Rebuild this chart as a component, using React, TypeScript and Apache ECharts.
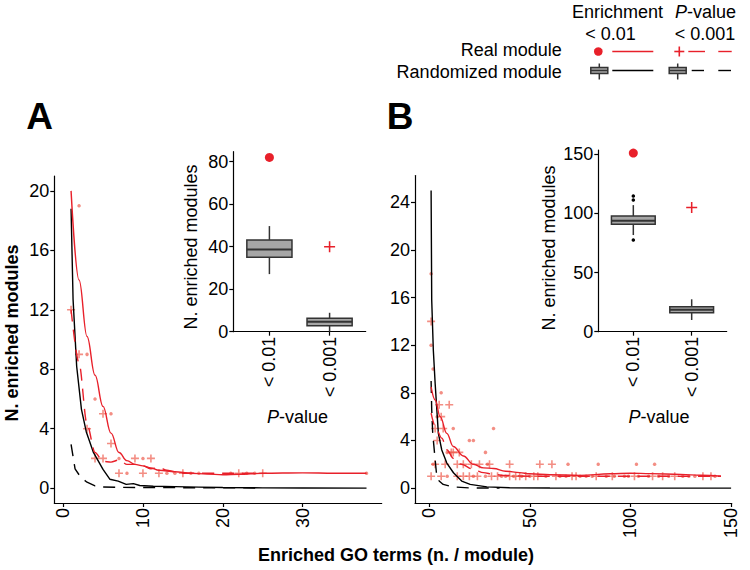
import React, { useEffect, useRef } from 'react';
import * as echarts from 'echarts';

const FONT = '"Liberation Sans", Arial, Helvetica, sans-serif';
const RED = '#e8202a';
const PT = 'rgba(236, 72, 56, 0.62)';
const BOXFILL = '#a6a6a6';
const BOXLINE = '#333333';

// ---------- Panel A (main) ----------
const aTicksX = [0, 10, 20, 30];
const aTicksY = [0, 4, 8, 12, 16, 20];
const aRealEnrichLine = [[1, 20], [2, 14], [3, 10.2], [4, 7.6], [5, 5.5], [6, 3.7], [7, 2.4], [8, 1.85], [9, 1.6], [10, 1.5], [11, 1.35], [12, 1.2], [14, 1.1], [16, 1.0], [18, 0.95], [20, 0.9], [22, 0.93], [25, 1.0], [30, 1.03], [34, 1.0], [38, 1.0]];
const aRealPLine = [[1, 12], [2, 8.4], [3, 4.3], [4, 2.4], [5, 1.8], [6, 1.75], [7, 1.9], [8, 1.6], [9, 1.6], [10, 1.5], [11, 1.3], [12, 1.4], [13, 1.2], [14, 1.1], [15, 1.0], [17, 1.0], [20, 1.0], [22, 1.0], [25, 1.0]];
const aRandEnrichLine = [[1, 18.8], [1.25, 12.7], [1.7, 8.2], [2.3, 5.3], [2.9, 3.8], [3.8, 2.4], [5, 1.26], [5.85, 0.6], [6.9, 0.47], [7.9, 0.25], [8.8, 0.3], [9.6, 0.18], [11.3, 0.13], [14, 0.1], [17, 0.07], [20, 0.04], [25, 0.02], [30, 0.01], [38, 0]];
const aRandPLine = [[1, 2.95], [1.5, 1.3], [2, 0.9], [2.5, 0.6], [3, 0.4], [4, 0.15], [5, 0.08], [7, 0.05], [10, 0.04], [15, 0.03], [20, 0.02], [25, 0.01]];
const aPlusPts = [[1, 12], [2, 9], [3, 4], [4, 2], [5, 5], [5, 2], [6, 3], [7, 1], [9, 2], [10, 1], [11, 2], [12, 1], [15, 1], [22, 1], [25, 1]];
const aDotPts = [[2, 19], [3, 9], [4, 6], [6, 5], [7, 2], [8, 1], [10, 2], [13, 1], [14, 1], [16, 1], [17, 1], [21, 1], [23, 1], [24, 1], [38, 1]];

// ---------- Panel A (inset) ----------
const insetCats = ['< 0.01', '< 0.001'];
const aInsetTicksY = [0, 20, 40, 60, 80];
// [category position, low whisker, Q1, median, Q3, high whisker]
const aBoxes = [[1, 27.1, 35, 38.7, 43.2, 49.7], [2, 0, 2.8, 4.7, 6.3, 8.9]];
const aRealEnrichCount = [[1, 82]];
const aRealPCount = [[2, 40]];

// ---------- Panel B (main) ----------
const bTicksX = [0, 50, 100, 150];
const bTicksY = [0, 4, 8, 12, 16, 20, 24];
const bRealEnrichLine = [[1, 8.5], [3, 7.4], [5.5, 6.0], [8.8, 4.6], [12, 3.5], [17, 2.7], [22, 2.0], [27, 1.7], [32, 1.65], [38, 1.42], [45, 1.3], [50, 1.2], [60, 1.12], [75, 1.07], [90, 1.2], [100, 1.25], [110, 1.22], [125, 1.15], [135, 1.08], [145, 1.0]];
const bRealPLine = [[1, 6.3], [3, 5.2], [6.3, 4.2], [9, 3.2], [12, 2.5], [16, 2.0], [22, 1.57], [27, 1.3], [32, 1.15], [38, 1.06], [50, 1.0], [80, 1.0], [110, 1.0], [145, 1.0]];
const bRandEnrichLine = [[1, 25], [1.3, 15.8], [2.1, 11.6], [3, 8.8], [4.6, 4.6], [6.3, 3.2], [8.8, 2.1], [12.1, 1.29], [16.2, 0.59], [20.4, 0.31], [28.7, 0.1], [40, 0.03], [60, 0.01], [100, 0], [150, 0]];
const bRandPLine = [[1, 9], [1.3, 6.6], [1.8, 4.6], [3, 2.4], [3.8, 1.0], [5, 0.6], [7, 0.31], [12, 0.1], [20, 0.02], [35, 0]];
const bPlusPts = [[1, 14], [5, 7], [10, 7], [6, 6], [3, 5], [7, 5], [4, 4], [11, 3], [12, 3], [15, 3], [3, 2], [8, 2], [14, 2], [17, 2], [21, 2], [25, 2], [30, 2], [40, 2], [55, 2], [61, 2], [1, 1], [6, 1], [14, 1], [17, 1], [20, 1], [24, 1], [31, 1], [34, 1], [40, 1], [43, 1], [45, 1], [48, 1], [52, 1], [54, 1], [63, 1], [71, 1], [73, 1], [83, 1], [91, 1], [102, 1], [111, 1], [116, 1], [122, 1], [136, 1], [140, 1]];
const bDotPts = [[1, 18], [1, 12], [2, 10], [6, 8], [4, 6], [12, 5], [20, 4], [22, 4], [32, 5], [28, 3], [9, 3], [2, 2], [29, 2], [69, 2], [84, 2], [103, 2], [112, 2], [9, 1], [22, 1], [28, 1], [36, 1], [38, 1], [42, 1], [46, 1], [50, 1], [58, 1], [65, 1], [68, 1], [75, 1], [78, 1], [81, 1], [88, 1], [92, 1], [97, 1], [99, 1], [104, 1], [109, 1], [114, 1], [119, 1], [126, 1], [129, 1], [132, 1], [142, 1]];

// ---------- Panel B (inset) ----------
const bInsetTicksY = [0, 50, 100, 150];
const bBoxes = [[1, 81.7, 90.8, 93.8, 97.8, 107], [2, 9.9, 16.1, 18.6, 21.1, 27.4]];
const bOutliers = [[1, 114.7], [1, 111.3], [1, 77.5]];
const bRealEnrichCount = [[1, 151]];
const bRealPCount = [[2, 105]];

const PLUS_SMALL = 'path://M4,0H6V4H10V6H6V10H4V6H0V4H4Z';
const PLUS_THIN = 'path://M4.3,0H5.7V4.3H10V5.7H5.7V10H4.3V5.7H0V4.3H4.3Z';

const axisBase = (vals: number[], fmt?: (v: number) => string, rotate = 0) => ({
  type: 'value',
  splitLine: { show: false },
  axisLine: { show: true, onZero: false, lineStyle: { color: '#000', width: 1.2 } },
  axisTick: { show: true, inside: false, length: 4, customValues: vals, lineStyle: { color: '#000', width: 1.2 } },
  axisLabel: {
    show: true, customValues: vals, color: '#000', fontSize: 18, fontFamily: FONT, margin: 5, rotate,
    formatter: fmt || ((v: number) => String(v)),
  },
});

const catFmt = (v: number) => insetCats[Math.round(v) - 1] ?? '';

const txt = (text: string, x: number, y: number, o: any = {}) => ({
  type: 'text', x, y, rotation: o.rot || 0, silent: true, z: 100,
  style: {
    text, x: 0, y: 0, fill: o.fill || '#000',
    font: `${o.italic ? 'italic' : 'normal'} ${o.bold ? 'bold' : 'normal'} ${o.size || 18}px ${FONT}`,
    align: o.align || 'center', textAlign: o.align || 'center',
    verticalAlign: 'middle', textVerticalAlign: 'middle',
  },
});

const pval = (x: number, y: number) => [
  txt('P', x, y, { italic: true, align: 'right' }),
  txt('-value', x, y, { align: 'left' }),
];

const ln = (x1: number, y1: number, x2: number, y2: number, stroke: string, dash?: number[], w = 1.4) => ({
  type: 'line', silent: true, z: 100,
  shape: { x1, y1, x2, y2 },
  style: { stroke, lineWidth: w, lineDash: dash },
});

const boxGlyph = (cx: number, cy: number) => [
  ln(cx, cy - 7, cx, cy + 9, BOXLINE, undefined, 1.5),
  { type: 'rect', silent: true, z: 100, shape: { x: cx - 8.5, y: cy - 3, width: 17, height: 6 }, style: { fill: BOXFILL, stroke: BOXLINE, lineWidth: 1.5 } },
  ln(cx - 8.5, cy, cx + 8.5, cy, BOXLINE, undefined, 1.5),
];

const renderBox = (params: any, api: any) => {
  const x = api.value(0);
  const lo = api.coord([x, api.value(1)]);
  const q1 = api.coord([x, api.value(2)]);
  const md = api.coord([x, api.value(3)]);
  const q3 = api.coord([x, api.value(4)]);
  const hi = api.coord([x, api.value(5)]);
  const w = api.size([0.75, 0])[0];
  const cx = lo[0];
  const st = { stroke: BOXLINE, lineWidth: 1.5 };
  return {
    type: 'group',
    children: [
      { type: 'line', shape: { x1: cx, y1: lo[1], x2: cx, y2: q1[1] }, style: st },
      { type: 'line', shape: { x1: cx, y1: q3[1], x2: cx, y2: hi[1] }, style: st },
      { type: 'rect', shape: { x: cx - w / 2, y: q3[1], width: w, height: q1[1] - q3[1] }, style: { fill: BOXFILL, ...st } },
      { type: 'line', shape: { x1: cx - w / 2, y1: md[1], x2: cx + w / 2, y2: md[1] }, style: { stroke: BOXLINE, lineWidth: 2 } },
    ],
  };
};

const lineSeries = (data: number[][], xi: number, color: string, dashed: boolean, smooth: number | boolean) => ({
  type: 'line', xAxisIndex: xi, yAxisIndex: xi, data, showSymbol: false, symbol: 'none',
  smooth, smoothMonotone: 'x', clip: false, z: 3,
  lineStyle: { color, width: 1.4, type: dashed ? [12, 8] : 'solid' },
});

const scatter = (data: number[][], xi: number, symbol: string, size: number, color: string, z = 2) => ({
  type: 'scatter', xAxisIndex: xi, yAxisIndex: xi, data, symbol, symbolSize: size,
  itemStyle: { color, opacity: 1 }, z, silent: true,
});

export default function App() {
  const ref = useRef<HTMLDivElement>(null);
  useEffect(() => {
    document.body.style.margin = '0';
    const chart = echarts.init(ref.current!, null, { renderer: 'svg' });
    const option: any = {
      animation: false,
      backgroundColor: '#ffffff',
      textStyle: { fontFamily: FONT },
      grid: [
        { left: 54.3, top: 176, width: 327.4, height: 327, containLabel: false, outerBoundsMode: 'none' },
        { left: 233.3, top: 151.7, width: 132.4, height: 180, containLabel: false, outerBoundsMode: 'none' },
        { left: 415, top: 175.5, width: 316.7, height: 327.5, containLabel: false, outerBoundsMode: 'none' },
        { left: 598.3, top: 150, width: 128.4, height: 181.7, containLabel: false, outerBoundsMode: 'none' },
      ],
      xAxis: [
        { gridIndex: 0, min: -1.1, max: 39.9, ...axisBase(aTicksX, undefined, 90) },
        { gridIndex: 1, min: 0.4, max: 2.6, ...axisBase([1, 2], catFmt, 90) },
        { gridIndex: 2, min: -7, max: 150.3, ...axisBase(bTicksX, undefined, 90) },
        { gridIndex: 3, min: 0.4, max: 2.6, ...axisBase([1, 2], catFmt, 90) },
      ],
      yAxis: [
        { gridIndex: 0, min: -1, max: 21, ...axisBase(aTicksY) },
        { gridIndex: 1, min: 0, max: 84.7, ...axisBase(aInsetTicksY) },
        { gridIndex: 2, min: -1.25, max: 26.25, ...axisBase(bTicksY) },
        { gridIndex: 3, min: 0, max: 153.6, ...axisBase(bInsetTicksY) },
      ],
      series: [
        // Panel A main
        scatter(aPlusPts, 0, PLUS_SMALL, 8, PT),
        scatter(aDotPts, 0, 'circle', 3.5, PT),
        lineSeries(aRandPLine, 0, '#000', true, false),
        lineSeries(aRandEnrichLine, 0, '#000', false, false),
        lineSeries(aRealPLine, 0, RED, true, 0.3),
        lineSeries(aRealEnrichLine, 0, RED, false, 0.4),
        // Panel A inset
        { type: 'custom', xAxisIndex: 1, yAxisIndex: 1, data: aBoxes, renderItem: renderBox, encode: { x: 0, y: [1, 2, 3, 4, 5] }, silent: true },
        scatter(aRealEnrichCount, 1, 'circle', 9, RED, 5),
        scatter(aRealPCount, 1, PLUS_THIN, 11, RED, 5),
        // Panel B main
        scatter(bPlusPts, 2, PLUS_SMALL, 8, PT),
        scatter(bDotPts, 2, 'circle', 3.5, PT),
        lineSeries(bRandPLine, 2, '#000', true, false),
        lineSeries(bRandEnrichLine, 2, '#000', false, false),
        lineSeries(bRealPLine, 2, RED, true, 0.3),
        lineSeries(bRealEnrichLine, 2, RED, false, 0.4),
        // Panel B inset
        { type: 'custom', xAxisIndex: 3, yAxisIndex: 3, data: bBoxes, renderItem: renderBox, encode: { x: 0, y: [1, 2, 3, 4, 5] }, silent: true },
        scatter(bOutliers, 3, 'circle', 3.5, '#000', 5),
        scatter(bRealEnrichCount, 3, 'circle', 9, RED, 5),
        scatter(bRealPCount, 3, PLUS_THIN, 11, RED, 5),
      ],
      graphic: [
        // panel letters
        txt('A', 39.5, 116.5, { bold: true, size: 37 }),
        txt('B', 400, 116.5, { bold: true, size: 37 }),
        // axis titles
        txt('N. enriched modules', 12, 333, { bold: true, rot: Math.PI / 2 }),
        txt('Enriched GO terms (n. / module)', 396, 555, { bold: true }),
        txt('N. enriched modules', 191, 247, { rot: Math.PI / 2 }),
        txt('N. enriched modules', 549, 248, { rot: Math.PI / 2 }),
        ...pval(279, 417),
        ...pval(640.5, 417),
        // legend
        txt('Enrichment', 617.5, 12),
        ...pval(687, 12),
        txt('< 0.01', 610.5, 34),
        txt('< 0.001', 705, 34),
        txt('Real module', 561.7, 50, { align: 'right' }),
        txt('Randomized module', 561.7, 71.5, { align: 'right' }),
        { type: 'circle', silent: true, z: 100, shape: { cx: 598.3, cy: 51.5, r: 4.3 }, style: { fill: RED } },
        ln(612.3, 51.5, 653.3, 51.5, RED),
        ln(674.3, 51.5, 684.3, 51.5, RED, undefined, 1.6),
        ln(679.3, 46.5, 679.3, 56.5, RED, undefined, 1.6),
        ln(688.3, 51.5, 705, 51.5, RED),
        ln(718.3, 51.5, 731.7, 51.5, RED),
        ...boxGlyph(599.3, 70.5),
        ln(612.3, 70.5, 653.3, 70.5, '#000'),
        ...boxGlyph(677.7, 70.5),
        ln(691.7, 70.5, 704, 70.5, '#000'),
        ln(718.3, 70.5, 731, 70.5, '#000'),
      ],
    };
    chart.setOption(option);
    return () => chart.dispose();
  }, []);
  return <div ref={ref} style={{ width: 750, height: 570 }} />;
}
